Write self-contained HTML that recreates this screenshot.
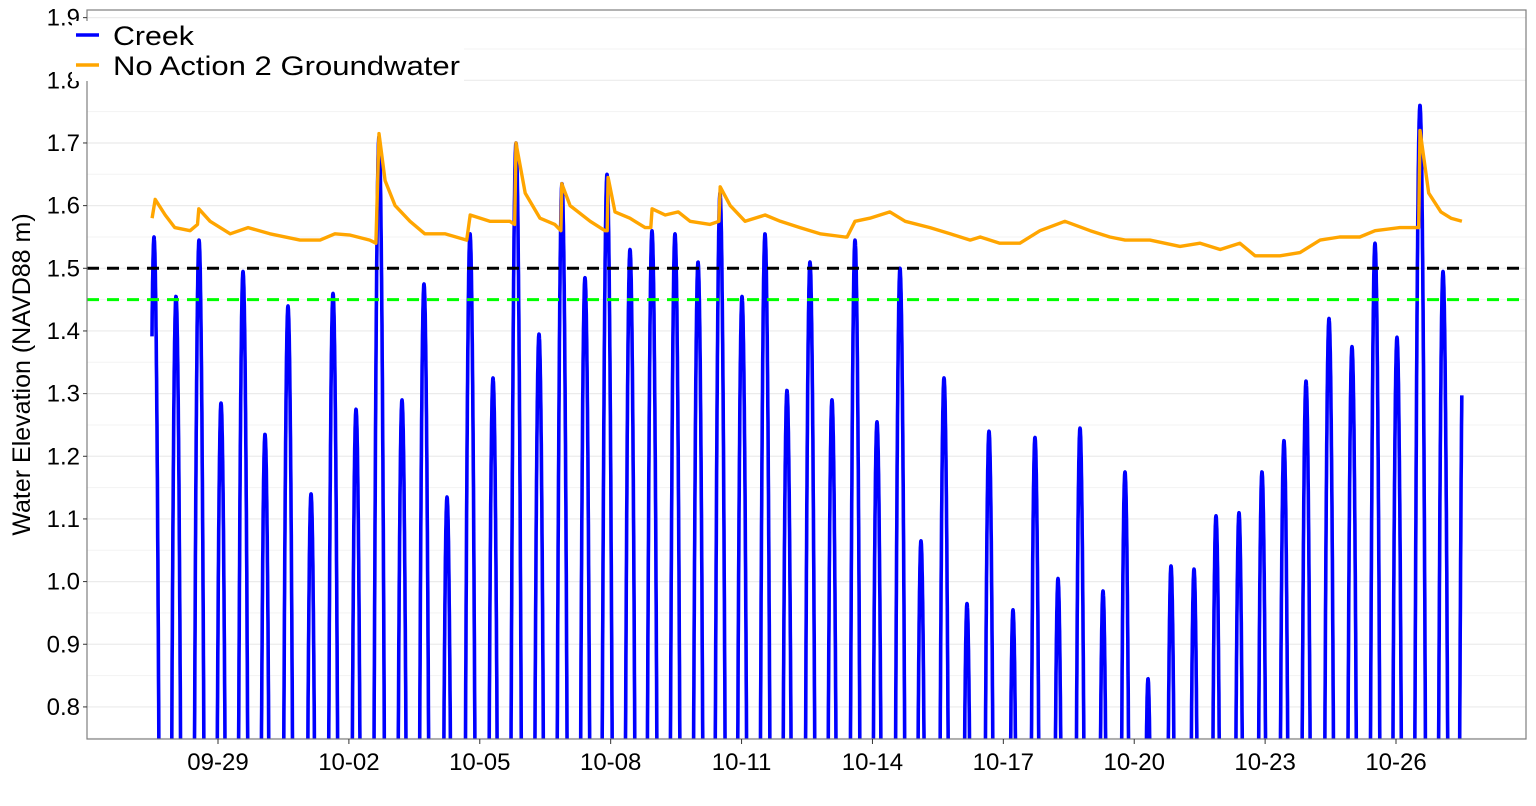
<!DOCTYPE html>
<html><head><meta charset="utf-8"><style>
html,body{margin:0;padding:0;background:#fff;width:1536px;height:806px;overflow:hidden;}
svg{display:block;position:absolute;left:0;top:0;font-family:"Liberation Sans",Arial,sans-serif;}
</style></head><body>
<svg id="chart" width="1536" height="806" viewBox="0 0 1536 806"></svg>
<script>
const yTicks=[0.8,0.9,1.0,1.1,1.2,1.3,1.4,1.5,1.6,1.7,1.8,1.9];
const xTickDays=[0,3,6,9,12,15,18,21,24,27];
const xTickLabels=["09-29","10-02","10-05","10-08","10-11","10-14","10-17","10-20","10-23","10-26"];
const creekPeakDays=[-1.467,-0.963,-0.435,0.069,0.573,1.077,1.604,2.132,2.636,3.163,3.690,4.217,4.721,5.249,5.776,6.303,6.830,7.357,7.884,8.411,8.916,9.443,9.947,10.474,11.002,11.506,12.010,12.537,13.041,13.568,14.072,14.600,15.104,15.631,16.112,16.640,17.167,17.671,18.221,18.725,19.253,19.757,20.284,20.788,21.316,21.843,22.370,22.874,23.401,23.928,24.432,24.937,25.464,25.991,26.518,27.022,27.549,28.077,28.56];
const creekPeakValues=[1.55,1.455,1.545,1.285,1.495,1.235,1.44,1.14,1.46,1.275,1.71,1.29,1.475,1.135,1.555,1.325,1.70,1.395,1.635,1.485,1.65,1.53,1.56,1.555,1.51,1.62,1.455,1.555,1.305,1.51,1.29,1.545,1.255,1.50,1.065,1.325,0.965,1.24,0.955,1.23,1.005,1.245,0.985,1.175,0.845,1.025,1.02,1.105,1.11,1.175,1.225,1.32,1.42,1.375,1.54,1.39,1.76,1.495,1.50];
const creekStartDay=-1.513, creekEndDay=28.51;
const gwDays=[-1.51,-1.44,-1.21,-0.99,-0.64,-0.47,-0.44,-0.18,0.28,0.69,1.19,1.88,2.34,2.68,3.03,3.48,3.62,3.69,3.83,4.06,4.40,4.74,5.20,5.70,5.78,6.23,6.69,6.80,6.83,7.04,7.38,7.72,7.86,7.88,8.07,8.53,8.87,8.92,8.94,9.10,9.44,9.79,9.92,9.95,10.25,10.55,10.82,11.28,11.48,11.51,11.74,12.08,12.54,12.89,13.34,13.80,14.37,14.42,14.60,14.94,15.40,15.75,16.32,16.78,17.24,17.47,17.92,18.38,18.84,19.41,19.99,20.44,20.79,21.36,22.05,22.51,22.97,23.42,23.77,24.34,24.80,25.26,25.71,26.17,26.52,27.09,27.37,27.52,27.55,27.75,28.03,28.26,28.51];
const gwValues=[1.58,1.61,1.585,1.565,1.56,1.57,1.595,1.575,1.555,1.565,1.555,1.545,1.545,1.555,1.553,1.545,1.54,1.715,1.64,1.60,1.575,1.555,1.555,1.545,1.585,1.575,1.575,1.57,1.70,1.62,1.58,1.57,1.56,1.635,1.60,1.575,1.56,1.56,1.645,1.59,1.58,1.565,1.565,1.595,1.585,1.59,1.575,1.57,1.575,1.63,1.60,1.575,1.585,1.575,1.565,1.555,1.55,1.55,1.575,1.58,1.59,1.575,1.565,1.555,1.545,1.55,1.54,1.54,1.56,1.575,1.56,1.55,1.545,1.545,1.535,1.54,1.53,1.54,1.52,1.52,1.525,1.545,1.55,1.55,1.56,1.565,1.565,1.565,1.72,1.62,1.59,1.58,1.575];
const refBlack=1.5, refGreen=1.45;

const NS="http://www.w3.org/2000/svg";
const svg=document.getElementById('chart');
const L=87,R=1526,T=10,B=739;
const yMin=0.7488,yMax=1.9122;
const X=d=>218+d*43.63;
const Y=v=>B-(v-yMin)/(yMax-yMin)*(B-T);
function el(tag,attrs,parent){const e=document.createElementNS(NS,tag);for(const k in attrs)e.setAttribute(k,attrs[k]);(parent||svg).appendChild(e);return e;}

const defs=el('defs',{});
const cp=el('clipPath',{id:'plotclip'},defs);
el('rect',{x:L,y:T,width:R-L,height:B-T},cp);

const grid=el('g',{});


for(let i=0;i<yTicks.length;i++){
  const v=yTicks[i];
  el('line',{x1:L,x2:R,y1:Y(v),y2:Y(v),stroke:'#ebebeb','stroke-width':1.2},grid);
  const vm=v+0.05; if(vm<yMax) el('line',{x1:L,x2:R,y1:Y(vm),y2:Y(vm),stroke:'#f3f3f3','stroke-width':1},grid);
}
{const vm=0.75; el('line',{x1:L,x2:R,y1:Y(vm),y2:Y(vm),stroke:'#f3f3f3','stroke-width':1},grid);}

const data=el('g',{'clip-path':'url(#plotclip)'});
let pts=[];
for(let d=creekStartDay; d<=creekEndDay+1e-9; d+=0.003){
  let v=-5;
  for(let i=0;i<creekPeakDays.length;i++){const dt=d-creekPeakDays[i];const c=dt<0?75:65;const w=creekPeakValues[i]-c*dt*dt;if(w>v)v=w;}
  v=Math.max(v,0.5);
  pts.push(X(d).toFixed(1)+','+Y(v).toFixed(1));
}
const creek=el('polyline',{points:pts.join(' '),fill:'none',stroke:'#0000ff','stroke-width':3.6,'stroke-linejoin':'round'},data);


const hb=el('line',{x1:L,x2:R,y1:Y(refBlack),y2:Y(refBlack),stroke:'#000','stroke-width':3,'stroke-dasharray':'12,8'},data);


const hg=el('line',{x1:L,x2:R,y1:Y(refGreen),y2:Y(refGreen),stroke:'#00ff00','stroke-width':3,'stroke-dasharray':'12,8'},data);


const gp=gwDays.map((d,i)=>X(d).toFixed(1)+','+Y(gwValues[i]).toFixed(1)).join(' ');
const gw=el('polyline',{points:gp,fill:'none',stroke:'#ffa500','stroke-width':3.4,'stroke-linejoin':'round'},data);



const border=el('rect',{x:L,y:T,width:R-L,height:B-T,fill:'none',stroke:'#7f7f7f','stroke-width':1.2});



for(const v of yTicks){
  el('line',{x1:L-4,x2:L,y1:Y(v),y2:Y(v),stroke:'#333','stroke-width':1});
  const t=el('text',{x:L-7,y:Y(v)+8,'text-anchor':'end','font-size':24,fill:'#000'});
  t.textContent=v.toFixed(1);
  
  
}
for(let i=0;i<xTickDays.length;i++){
  const x=X(xTickDays[i]);
  el('line',{x1:x,x2:x,y1:B,y2:B+5,stroke:'#333','stroke-width':1});
  const t=el('text',{x:x,y:B+31,'text-anchor':'middle','font-size':24,fill:'#000'});
  t.textContent=xTickLabels[i];
  
  
}
const yt=el('text',{x:0,y:0,transform:'translate(30,'+((T+B)/2)+') rotate(-90)','text-anchor':'middle','font-size':25,fill:'#000'});
yt.textContent='Water Elevation (NAVD88 m)';



const lg=el('g',{});


el('rect',{x:72,y:21,width:392,height:60,fill:'#fff'},lg);
const e1=el('g',{},lg);


el('line',{x1:76,x2:99,y1:35,y2:35,stroke:'#0000ff','stroke-width':3.5},e1);
const t1=el('text',{x:113,y:45,'font-size':27,fill:'#000',textLength:81,lengthAdjust:'spacingAndGlyphs'},e1);t1.textContent='Creek';
const e2=el('g',{},lg);


el('line',{x1:76,x2:99,y1:65,y2:65,stroke:'#ffa500','stroke-width':3.5},e2);
const t2=el('text',{x:113,y:75,'font-size':27,fill:'#000',textLength:347,lengthAdjust:'spacingAndGlyphs'},e2);t2.textContent='No Action 2 Groundwater';
</script>
</body></html>
